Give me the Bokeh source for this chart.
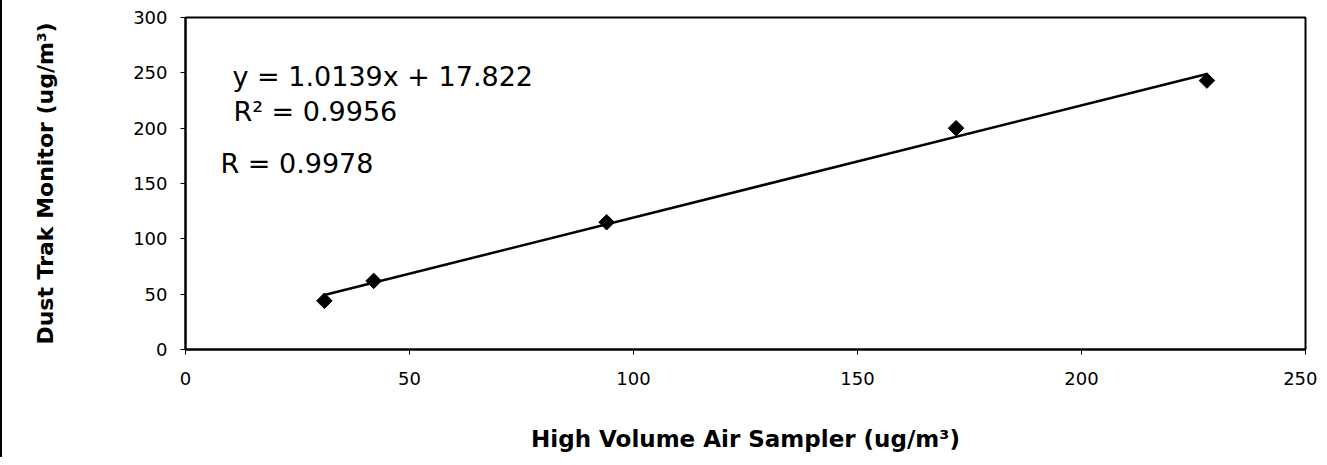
from bokeh.plotting import figure
from bokeh.models import Range1d, Label, FixedTicker, ColumnDataSource
from bokeh.embed import file_html
from bokeh.resources import INLINE
import numpy as np

# Data
hv_sampler = [31, 42, 94, 172, 228]        # High Volume Air Sampler (ug/m3)
dust_trak = [44, 62, 115, 200, 243]        # Dust Trak Monitor (ug/m3)
slope = 1.0139
intercept = 17.822
x_ticks = [0, 50, 100, 150, 200, 250]
y_ticks = [0, 50, 100, 150, 200, 250, 300]
eq_text = "y = 1.0139x + 17.822"
r2_text = "R² = 0.9956"
r_text = "R = 0.9978"

FONT = "DejaVu Sans"

p = figure(width=1317, height=457, output_backend="svg", toolbar_location=None,
           x_range=Range1d(0, 250), y_range=Range1d(0, 300),
           min_border_left=183, min_border_right=14, min_border_top=17,
           min_border_bottom=108)
p.styles = {"border-left": "2px solid black"}

p.xgrid.visible = False
p.ygrid.visible = False
p.outline_line_color = "black"
p.outline_line_width = 2
p.background_fill_color = "white"
p.border_fill_color = "white"

for ax in (p.xaxis[0], p.yaxis[0]):
    ax.axis_line_width = 2
    ax.axis_line_color = "black"
    ax.major_tick_line_color = "black"
    ax.major_tick_line_width = 1
    ax.major_tick_out = 5
    ax.major_tick_in = 0
    ax.minor_tick_line_color = None
    ax.major_label_text_font = FONT
    ax.major_label_text_font_size = "18px"
    ax.major_label_text_color = "black"
    ax.axis_label_text_font = FONT
    ax.axis_label_text_font_style = "bold"
    ax.axis_label_text_color = "black"

p.xaxis.axis_label_text_font_size = "23px"
p.yaxis.axis_label_text_font_size = "22px"
p.xaxis.ticker = FixedTicker(ticks=x_ticks)
p.yaxis.ticker = FixedTicker(ticks=y_ticks)
p.xaxis.major_label_standoff = 17
p.yaxis.major_label_standoff = 13
p.xaxis.axis_label = "High Volume Air Sampler (ug/m³)"
p.yaxis.axis_label = "Dust Trak Monitor (ug/m³)"
p.xaxis.axis_label_standoff = 38
p.yaxis.axis_label_standoff = 72

# Trend line from the regression equation over the data's x extent
xs = np.array([min(hv_sampler), max(hv_sampler)], dtype=float)
ys = slope * xs + intercept
p.line(xs, ys, line_color="black", line_width=2.5)

src = ColumnDataSource(dict(x=hv_sampler, y=dust_trak))
p.scatter("x", "y", source=src, marker="square", angle=np.pi / 4, size=11,
          fill_color="black", line_color="black")

for txt, lx, ly in [(eq_text, 10.5, 247), (r2_text, 10.7, 215), (r_text, 7.8, 168)]:
    p.add_layout(Label(x=lx, y=ly, text=txt, text_font=FONT, text_font_size="27px",
                       text_color="black", text_align="left", text_baseline="middle"))

open("out.html", "w").write(file_html(p, INLINE))
